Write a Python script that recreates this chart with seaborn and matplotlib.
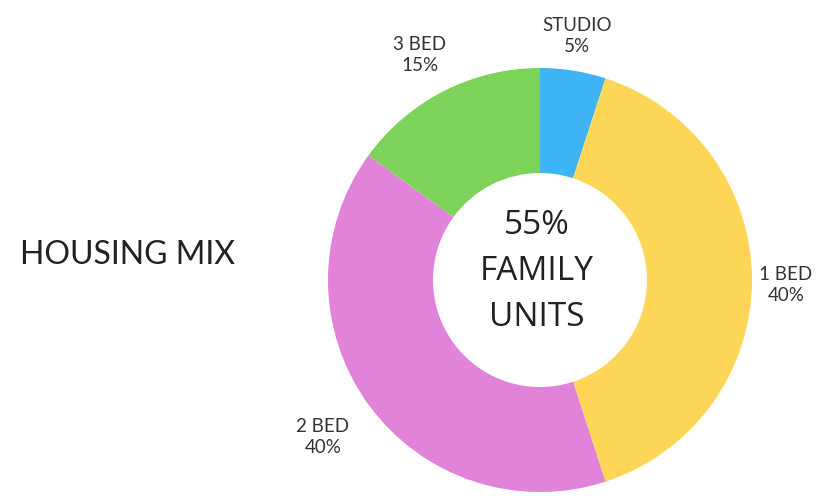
import matplotlib
matplotlib.use("Agg")
import matplotlib.pyplot as plt
import seaborn as sns

categories = ["STUDIO", "1 BED", "2 BED", "3 BED"]
shares = [5, 40, 40, 15]
colors = ["#3FB4F4", "#FDD657", "#E083D9", "#7DD35A"]
title = "HOUSING MIX"
center_lines = ["55%", "FAMILY", "UNITS"]

sns.set_theme(style="white")
plt.rcParams["font.family"] = ["Lato", "DejaVu Sans"]

W, H = 820, 496
fig = plt.figure(figsize=(W / 100, H / 100), dpi=100)
ax = fig.add_axes([0, 0, 1, 1])

cx, cy, R = 540, 496 - 280, 212
ax.pie(shares, colors=colors, startangle=90, counterclock=False,
       center=(cx, cy), radius=R,
       wedgeprops=dict(width=R - 107, edgecolor="none", linewidth=0))

ax.set_xlim(0, W)
ax.set_ylim(0, H)
ax.set_aspect("equal")
ax.axis("off")

lab_col = "#333333"
label_pos = {
    "STUDIO": (577, 36),
    "1 BED": (786, 285),
    "2 BED": (323, 437),
    "3 BED": (420, 55),
}
for cat, val in zip(categories, shares):
    x, y = label_pos[cat]
    ax.text(x, H - y, f"{cat}\n{val}%", ha="center", va="center",
            fontsize=13.5, color=lab_col, linespacing=1.3)

ax.text(128, H - 255, title, ha="center", va="center", fontsize=23,
        color="#222222")

for txt, y in zip(center_lines, [226, 272, 318]):
    ax.text(537, H - y, txt, ha="center", va="center", fontsize=24,
            color="#222222", family=["Open Sans", "DejaVu Sans"])

fig.savefig("out.png", dpi=100, facecolor="white")
